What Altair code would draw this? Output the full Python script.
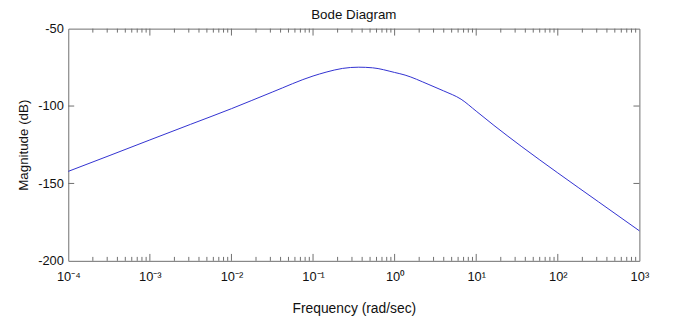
import altair as alt
import pandas as pd

# Bode magnitude curve (frequency in rad/sec, magnitude in dB)
freq = [1e-4, 3.16e-4, 1e-3, 3.16e-3, 1e-2, 3.16e-2, 0.1, 0.1445, 0.229, 0.363, 0.537,
        1.0, 1.343, 2.57, 3.98, 6.53, 10, 16.5, 36.3, 100, 316, 1000]
mag = [-142.2, -132.1, -121.9, -111.8, -101.7, -91.0, -80.6, -78.1, -75.7, -74.9, -75.3,
       -78.3, -80.0, -85.9, -90.2, -95.6, -103.3, -112.5, -126.3, -143.2, -161.9, -180.6]

x_decades = [1e-4, 1e-3, 1e-2, 1e-1, 1e0, 1e1, 1e2, 1e3]
x_labels = ["10\u207b\u2074", "10\u207b\u00b3", "10\u207b\u00b2", "10\u207b\u00b9",
            "10\u2070", "10\u00b9", "10\u00b2", "10\u00b3"]
y_ticks = [-200, -150, -100, -50]
y_inner_ticks = [-150, -100]

W, H = 578, 235
FONT = "Liberation Sans, Arial, Helvetica, sans-serif"
AXIS_COLOR = "#6e6e6e"
LINE_COLOR = "#3030d0"

df = pd.DataFrame({"freq": freq, "mag": mag})
minor = [m * d for d in x_decades[:-1] for m in range(2, 10)]
df_major = pd.DataFrame({"freq": x_decades[1:-1]})
df_minor = pd.DataFrame({"freq": minor})
df_y = pd.DataFrame({"mag": y_inner_ticks})

label_expr = "[" + ",".join("'" + s + "'" for s in x_labels) + "][round(log(datum.value)/LN10)+4]"

xscale = alt.Scale(type="log", domain=[1e-4, 1e3], nice=False)
yscale = alt.Scale(domain=[-200, -50], nice=False, zero=False)

X = alt.X("freq:Q", scale=xscale,
          axis=alt.Axis(values=x_decades, labelExpr=label_expr, title="Frequency (rad/sec)",
                        labelPadding=10, titlePadding=18, titleFontSize=14,
                        labelFlush=False, labelOverlap=False))
Y = alt.Y("mag:Q", scale=yscale,
          axis=alt.Axis(values=y_ticks, labelExpr="'' + datum.value", title="Magnitude (dB)",
                        labelPadding=5, titlePadding=7, titleFontSize=13.5, labelFlush=False))

line = alt.Chart(df).mark_line(color=LINE_COLOR, strokeWidth=1, interpolate="monotone").encode(
    x=X, y=Y)

def xticks(data, length):
    bottom = alt.Chart(data).mark_rule(color=AXIS_COLOR, strokeWidth=1).encode(
        x=X, y=alt.value(H), y2=alt.value(H - length))
    top = alt.Chart(data).mark_rule(color=AXIS_COLOR, strokeWidth=1).encode(
        x=X, y=alt.value(0), y2=alt.value(length))
    return [bottom, top]

yleft = alt.Chart(df_y).mark_rule(color=AXIS_COLOR, strokeWidth=1).encode(
    y=Y, x=alt.value(0), x2=alt.value(6))
yright = alt.Chart(df_y).mark_rule(color=AXIS_COLOR, strokeWidth=1).encode(
    y=Y, x=alt.value(W), x2=alt.value(W - 6))

chart = alt.layer(
    line, *xticks(df_major, 7), *xticks(df_minor, 4), yleft, yright
).properties(
    width=W, height=H,
    padding={"left": 61, "top": 19, "right": 32, "bottom": 60},
    autosize=alt.AutoSizeParams(type="none"),
    title=alt.TitleParams("Bode Diagram", fontSize=13.5, fontWeight="normal", font=FONT,
                          color="#111111", offset=6, dy=5, anchor="middle"),
).configure_view(
    stroke=AXIS_COLOR, strokeWidth=1
).configure_axis(
    domain=False, ticks=False, grid=False,
    labelFont=FONT, labelFontSize=13, labelColor="#111111",
    titleFont=FONT, titleFontWeight="normal", titleColor="#111111",
)

chart.save("out.html", embed_options={"renderer": "svg", "actions": False})
